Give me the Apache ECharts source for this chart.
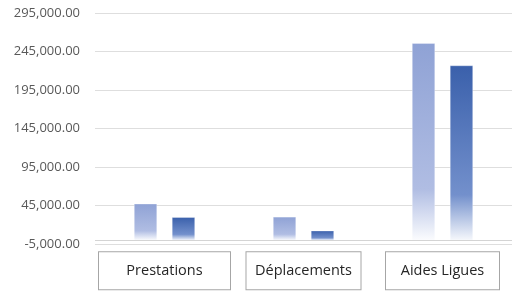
<!DOCTYPE html>
<html>
<head>
<meta charset="utf-8">
<script src="https://cdn.jsdelivr.net/npm/echarts@6/dist/echarts.min.js"></script>
<style>
html,body{margin:0;padding:0;background:#fff;}
#chart{width:517px;height:293px;}
</style>
</head>
<body>
<div id="chart"></div>
<script>
const categories = ['Prestations', 'Déplacements', 'Aides Ligues'];
const seriesA = [47500, 30500, 256000];
const seriesB = [30000, 12500, 227000];
const tickLabels = ['-5,000.00', '45,000.00', '95,000.00', '145,000.00', '195,000.00', '245,000.00', '295,000.00'];
const axisMin = -5000, axisMax = 295000, tickStep = 50000;

const chart = echarts.init(document.getElementById('chart'), null, {renderer: 'canvas'});

function grad(c0, c1, c2) {
  return new echarts.graphic.LinearGradient(0, 0, 0, 1, [
    {offset: 0, color: c0},
    {offset: 0.74, color: c1},
    {offset: 1, color: c2}
  ]);
}

const boxBase = {
  height: 37, borderColor: '#a6a6a6', borderWidth: 1, align: 'center',
  verticalAlign: 'middle', color: '#262626', fontFamily: 'Open Sans', fontSize: 14.5,
  backgroundColor: '#fff'
};

chart.setOption({
  animation: false,
  grid: {left: 95, right: 5, top: 13.2, bottom: 48.8, containLabel: false},
  xAxis: {
    type: 'category', data: categories,
    axisLine: {show: false}, axisTick: {show: false},
    axisLabel: {
      margin: 8, interval: 0,
      formatter: (v, i) => '{c' + i + '|' + v + '}',
      rich: {
        c0: Object.assign({}, boxBase, {width: 131}),
        c1: Object.assign({}, boxBase, {width: 114}),
        c2: Object.assign({}, boxBase, {width: 113})
      }
    }
  },
  yAxis: [
    {type: 'value', min: axisMin, max: axisMax, show: false, splitLine: {show: false}},
    {type: 'value', min: 0, max: axisMax - axisMin, interval: tickStep, position: 'left',
      axisLine: {show: false}, axisTick: {show: false},
      axisLabel: {margin: 15, color: '#595959', fontFamily: 'Open Sans', fontSize: 13,
        formatter: (v) => tickLabels[Math.round(v / tickStep)]},
      splitLine: {lineStyle: {color: '#dedede', width: 1}}
    }
  ],
  series: [
    {type: 'bar', yAxisIndex: 0, data: seriesA, barWidth: 23, barGap: '65%',
      itemStyle: {color: grad('#8fa2d5', '#b0bde3', '#fbfcfe'), borderColor: 'rgba(255,255,255,0.6)', borderWidth: 0.5},
      markLine: {silent: true, symbol: 'none', label: {show: false},
        lineStyle: {color: '#d4d4d4', type: 'solid', width: 1},
        data: [{yAxis: 0}]}
    },
    {type: 'bar', yAxisIndex: 0, data: seriesB, barWidth: 23,
      itemStyle: {color: grad('#3a60ab', '#7390cc', '#f6f8fc'), borderColor: 'rgba(255,255,255,0.6)', borderWidth: 0.5}
    }
  ]
});
</script>
</body>
</html>
